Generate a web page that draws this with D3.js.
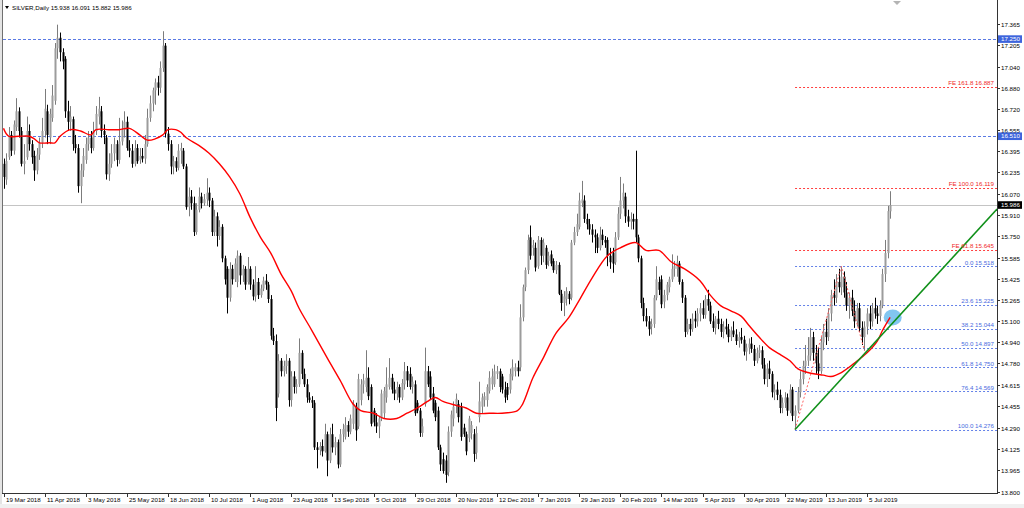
<!DOCTYPE html>
<html><head><meta charset="utf-8">
<script src="https://cdn.jsdelivr.net/npm/d3@7/dist/d3.min.js"></script>
<style>
html,body{margin:0;padding:0;background:#fff;overflow:hidden}
svg{display:block}
text{font-family:"Liberation Sans",Arial,sans-serif;}
</style></head><body>
<svg id="c" width="1024" height="508"></svg>
<script>
// ---------- DATA ----------
const symbolTitle = "SILVER,Daily";
const titleOHLC = [15.938, 16.091, 15.882, 15.986];
const dateLabels = ["19 Mar 2018","11 Apr 2018","3 May 2018","25 May 2018","18 Jun 2018","10 Jul 2018","1 Aug 2018","23 Aug 2018","13 Sep 2018","5 Oct 2018","29 Oct 2018","20 Nov 2018","12 Dec 2018","7 Jan 2019","29 Jan 2019","20 Feb 2019","14 Mar 2019","5 Apr 2019","30 Apr 2019","22 May 2019","13 Jun 2019","5 Jul 2019"];
const barsPerDateLabel = 16;
const yTickLabels = ["17.365","17.205","17.040","16.880","16.720","16.555","16.395","16.235","16.070","15.910","15.750","15.585","15.425","15.265","15.100","14.940","14.780","14.615","14.455","14.290","14.125","13.965","13.800"];

const opens = [
16.30,16.18,16.35,16.52,16.40,16.58,16.70,16.55,16.30,16.35,16.55,16.45,16.36,16.25,16.37,16.46,
16.55,16.70,16.50,16.65,16.78,17.18,17.26,17.15,17.10,16.70,16.62,16.64,16.45,16.42,16.13,16.25,
16.33,16.45,16.50,16.42,16.55,16.66,16.70,16.55,16.50,16.22,16.30,16.38,16.45,16.33,16.47,16.56,
16.62,16.42,16.40,16.30,16.42,16.33,16.36,16.34,16.45,16.65,16.76,16.86,16.92,16.88,17.03,17.20,
16.53,16.45,16.28,16.32,16.27,16.40,16.40,16.28,15.97,16.05,16.00,15.78,15.95,16.05,16.00,16.03,
16.08,16.02,15.78,15.90,15.75,15.82,15.58,15.50,15.28,15.50,15.42,15.40,15.60,15.45,15.50,15.40,
15.50,15.38,15.29,15.40,15.30,15.35,15.41,15.38,15.27,14.99,14.95,14.55,14.80,14.72,14.76,14.80,
14.50,14.68,14.60,14.62,14.86,14.70,14.62,14.52,14.50,14.48,14.14,14.12,14.15,14.11,14.24,14.04,
14.24,14.14,14.18,14.01,14.24,14.22,14.31,14.26,14.32,14.45,14.30,14.50,14.62,14.60,14.67,14.60,
14.42,14.33,14.30,14.36,14.40,14.52,14.60,14.67,14.58,14.55,14.60,14.52,14.62,14.72,14.70,14.60,
14.62,14.48,14.42,14.25,14.47,14.72,14.68,14.55,14.48,14.42,14.14,14.05,14.04,13.95,14.26,14.36,
14.46,14.47,14.45,14.29,14.24,14.21,14.25,14.24,14.10,14.37,14.45,14.50,14.50,14.57,14.62,14.62,
14.70,14.72,14.68,14.58,14.60,14.58,14.68,14.72,14.75,14.75,15.13,15.36,15.49,15.74,15.66,15.66,
15.52,15.72,15.60,15.66,15.56,15.61,15.56,15.49,15.53,15.31,15.24,15.27,15.31,15.28,15.70,15.78,
15.82,16.00,16.02,15.88,15.84,15.80,15.76,15.74,15.66,15.76,15.72,15.72,15.60,15.62,15.55,15.74,
15.92,16.02,16.05,15.90,15.86,15.88,15.88,15.74,15.58,15.24,15.14,15.10,15.06,15.08,15.28,15.40,
15.42,15.25,15.30,15.36,15.42,15.50,15.50,15.54,15.40,15.28,15.02,15.08,15.04,15.12,15.10,15.16,
15.20,15.15,15.27,15.22,15.10,15.05,15.12,15.08,15.02,15.06,15.04,14.98,15.03,15.00,14.95,14.98,
14.96,14.87,14.90,14.93,14.89,14.80,14.86,14.88,14.77,14.66,14.74,14.70,14.56,14.58,14.54,14.44,
14.48,14.52,14.42,14.58,14.38,14.42,14.56,14.66,14.76,14.80,14.84,14.98,14.86,14.78,14.72,14.94,
15.02,14.98,15.16,15.30,15.28,15.40,15.36,15.44,15.32,15.22,15.28,15.18,15.10,15.20,15.05,14.98,
15.06,15.16,15.10,15.20,15.16,15.14,15.22,15.46,15.62,15.938];

const highs = [
16.34,16.38,16.58,16.55,16.63,16.80,16.73,16.58,16.45,16.66,16.60,16.48,16.40,16.42,16.50,16.65,
16.87,16.75,16.72,16.90,17.22,17.36,17.30,17.18,17.12,16.78,16.74,16.66,16.52,16.45,16.30,16.42,
16.50,16.55,16.55,16.62,16.74,16.81,16.74,16.60,16.52,16.38,16.45,16.50,16.48,16.65,16.63,16.70,
16.66,16.48,16.45,16.48,16.45,16.42,16.42,16.52,16.72,16.82,16.88,16.95,16.97,17.08,17.31,17.22,
16.58,16.48,16.36,16.35,16.45,16.46,16.42,16.30,16.12,16.10,16.05,16.00,16.12,16.08,16.07,16.19,
16.12,16.04,15.95,15.93,15.87,15.84,15.60,15.52,15.55,15.53,15.58,15.64,15.62,15.53,15.52,15.59,
15.52,15.42,15.52,15.43,15.38,15.44,15.46,15.40,15.30,15.05,15.00,14.85,14.82,14.80,14.85,14.82,
14.72,14.72,14.66,14.97,14.88,14.74,14.66,14.56,14.53,14.50,14.18,14.18,14.20,14.32,14.26,14.29,
14.32,14.22,14.20,14.28,14.32,14.37,14.34,14.39,14.50,14.48,14.70,14.66,14.70,14.88,14.75,14.62,
14.44,14.40,14.38,14.58,14.60,14.75,14.82,14.70,14.64,14.64,14.62,14.66,14.79,14.76,14.75,14.68,
14.65,14.50,14.44,14.36,14.90,14.76,14.72,14.60,14.50,14.45,14.16,14.10,14.08,14.30,14.42,14.49,
14.55,14.50,14.48,14.32,14.26,14.38,14.34,14.28,14.30,14.64,14.55,14.56,14.62,14.72,14.74,14.77,
14.76,14.74,14.70,14.64,14.63,14.74,14.81,14.78,14.80,15.23,15.38,15.51,15.76,15.83,15.72,15.70,
15.75,15.74,15.73,15.68,15.63,15.64,15.58,15.56,15.55,15.34,15.33,15.36,15.33,15.72,15.82,15.92,
16.08,16.17,16.06,15.92,15.88,15.84,15.80,15.77,15.82,15.80,15.75,15.74,15.66,15.66,15.78,15.97,
16.20,16.15,16.08,15.95,15.93,15.92,16.40,15.76,15.60,15.28,15.20,15.14,15.12,15.30,15.52,15.44,
15.45,15.34,15.40,15.44,15.61,15.56,15.60,15.56,15.42,15.30,15.12,15.12,15.16,15.18,15.20,15.24,
15.26,15.30,15.34,15.25,15.16,15.14,15.18,15.12,15.10,15.12,15.08,15.06,15.10,15.04,15.02,15.05,
14.99,14.93,14.97,14.98,14.92,14.90,14.92,14.91,14.82,14.78,14.80,14.72,14.62,14.64,14.58,14.52,
14.56,14.55,14.62,14.60,14.46,14.60,14.72,14.80,14.92,14.98,15.05,15.02,14.92,14.90,14.98,15.08,
15.12,15.20,15.34,15.42,15.46,15.50,15.518,15.48,15.40,15.32,15.34,15.26,15.24,15.24,15.10,15.10,
15.20,15.22,15.24,15.28,15.22,15.26,15.50,15.72,15.98,16.091];

const lows = [
16.11,16.14,16.33,16.36,16.37,16.55,16.50,16.28,16.22,16.33,16.40,16.30,16.17,16.22,16.33,16.42,
16.50,16.45,16.45,16.62,16.75,17.10,17.08,17.02,16.65,16.55,16.55,16.40,16.38,16.08,16.00,16.20,
16.30,16.40,16.38,16.40,16.52,16.60,16.50,16.45,16.18,16.17,16.27,16.32,16.28,16.30,16.44,16.50,
16.40,16.35,16.27,16.28,16.30,16.30,16.31,16.30,16.43,16.62,16.70,16.75,16.82,16.84,17.00,16.50,
16.40,16.22,16.22,16.24,16.25,16.30,16.26,15.95,15.90,15.95,15.75,15.76,15.93,15.96,15.98,15.98,
15.97,15.75,15.75,15.67,15.72,15.55,15.38,15.16,15.25,15.38,15.40,15.36,15.38,15.40,15.34,15.38,
15.34,15.26,15.25,15.27,15.28,15.33,15.34,15.24,14.96,14.92,14.34,14.52,14.68,14.68,14.70,14.45,
14.45,14.55,14.55,14.60,14.66,14.60,14.48,14.48,14.44,14.12,13.98,14.08,14.07,14.10,13.92,14.02,
14.10,14.08,13.98,13.99,14.18,14.20,14.22,14.24,14.28,14.19,14.28,14.46,14.55,14.56,14.50,14.30,
14.30,14.25,14.21,14.34,14.36,14.48,14.58,14.55,14.50,14.50,14.48,14.50,14.58,14.60,14.58,14.55,
14.38,14.40,14.22,14.22,14.45,14.60,14.50,14.40,14.34,14.12,13.96,13.94,13.87,13.92,14.22,14.30,
14.40,14.33,14.19,14.22,14.08,14.18,14.20,14.03,14.05,14.33,14.40,14.45,14.45,14.55,14.58,14.60,
14.66,14.56,14.55,14.48,14.50,14.55,14.65,14.68,14.68,14.72,15.10,15.33,15.46,15.57,15.60,15.48,
15.50,15.53,15.55,15.50,15.52,15.52,15.47,15.46,15.30,15.18,15.14,15.22,15.23,15.26,15.68,15.75,
15.80,15.97,15.85,15.80,15.76,15.70,15.62,15.62,15.64,15.68,15.66,15.52,15.50,15.47,15.53,15.72,
15.88,15.96,15.85,15.82,15.80,15.80,15.70,15.55,15.20,15.10,15.06,14.99,15.00,15.05,15.26,15.30,
15.20,15.20,15.26,15.32,15.40,15.44,15.44,15.38,15.24,14.98,15.00,14.99,15.02,15.05,15.06,15.10,
15.12,15.12,15.18,15.08,15.02,15.00,15.04,14.98,14.97,15.00,14.94,14.95,14.98,14.92,14.90,14.93,
14.84,14.80,14.85,14.86,14.76,14.78,14.82,14.74,14.62,14.60,14.66,14.52,14.50,14.50,14.40,14.40,
14.44,14.38,14.40,14.34,14.276,14.40,14.52,14.62,14.70,14.76,14.80,14.80,14.70,14.66,14.70,14.88,
14.92,14.95,15.10,15.22,15.24,15.32,15.30,15.28,15.18,15.12,15.14,15.05,15.06,15.02,14.92,14.877,
15.00,15.04,15.06,15.12,15.08,15.10,15.20,15.40,15.58,15.882];

const closes = [
16.20,16.32,16.52,16.40,16.60,16.70,16.55,16.30,16.32,16.55,16.45,16.35,16.25,16.37,16.46,16.55,
16.72,16.52,16.68,16.82,17.18,17.26,17.15,17.08,16.70,16.62,16.66,16.45,16.42,16.13,16.25,16.36,
16.45,16.50,16.42,16.55,16.68,16.72,16.55,16.52,16.22,16.30,16.38,16.45,16.33,16.47,16.56,16.62,
16.42,16.40,16.30,16.42,16.32,16.36,16.34,16.45,16.65,16.76,16.86,16.92,16.88,17.03,17.20,16.53,
16.45,16.28,16.32,16.27,16.40,16.42,16.28,15.97,16.05,16.00,15.78,15.95,16.05,16.00,16.03,16.08,
16.02,15.78,15.90,15.75,15.82,15.58,15.42,15.28,15.50,15.42,15.54,15.60,15.45,15.50,15.38,15.50,
15.38,15.29,15.40,15.30,15.35,15.41,15.38,15.27,14.99,14.95,14.44,14.80,14.72,14.76,14.80,14.50,
14.68,14.60,14.62,14.86,14.70,14.62,14.52,14.50,14.48,14.14,14.12,14.15,14.11,14.24,14.04,14.24,
14.14,14.18,14.01,14.24,14.28,14.31,14.26,14.36,14.47,14.27,14.66,14.62,14.65,14.67,14.53,14.32,
14.33,14.30,14.36,14.55,14.57,14.62,14.67,14.58,14.55,14.60,14.52,14.63,14.72,14.65,14.60,14.64,
14.40,14.42,14.25,14.30,14.72,14.62,14.52,14.42,14.37,14.14,14.01,13.96,13.93,14.26,14.39,14.45,
14.51,14.37,14.22,14.24,14.11,14.36,14.31,14.09,14.25,14.49,14.52,14.53,14.60,14.67,14.68,14.72,
14.72,14.60,14.58,14.52,14.54,14.70,14.75,14.75,14.72,15.13,15.36,15.49,15.72,15.60,15.68,15.51,
15.72,15.60,15.70,15.53,15.60,15.54,15.49,15.53,15.31,15.24,15.29,15.33,15.27,15.70,15.78,15.84,
16.02,16.03,15.88,15.84,15.80,15.76,15.74,15.66,15.76,15.72,15.70,15.60,15.55,15.54,15.74,15.92,
16.02,16.08,15.90,15.86,15.88,15.86,15.74,15.58,15.24,15.14,15.10,15.04,15.08,15.28,15.42,15.34,
15.23,15.30,15.38,15.42,15.50,15.52,15.55,15.40,15.28,15.02,15.08,15.04,15.12,15.10,15.16,15.20,
15.15,15.27,15.22,15.10,15.05,15.12,15.08,15.02,15.06,15.04,14.98,15.03,15.00,14.95,14.98,14.96,
14.87,14.90,14.93,14.89,14.80,14.86,14.88,14.77,14.66,14.74,14.70,14.56,14.58,14.54,14.44,14.48,
14.52,14.42,14.58,14.38,14.42,14.56,14.66,14.76,14.80,14.84,14.98,14.86,14.78,14.72,14.94,15.02,
14.98,15.16,15.30,15.28,15.40,15.36,15.44,15.32,15.22,15.28,15.18,15.10,15.20,15.05,14.98,15.06,
15.16,15.10,15.20,15.16,15.14,15.22,15.46,15.62,15.94,15.986];

// moving average (red line), read at these bar positions
const maBars = [0,2,6,10,12,14,18,20,22,26,30,34,36,41,45,49,53,56,59,62,64,67,69,71,76,80,84,88,92,96,100,104,108,112,115,120,126,131,136,139,144,148,153,157,161,165,168,171,176,180,184,189,194,200,202,206,210,215,220,224,229,235,240,246,250,255,260,265,271,275,279,283,287,290,294,298,302,306,309,313,319,322,326,331,336,340,342,345];
const maValues = [16.57,16.51,16.51,16.51,16.49,16.46,16.46,16.46,16.51,16.56,16.55,16.52,16.56,16.56,16.56,16.57,16.52,16.48,16.49,16.52,16.56,16.56,16.54,16.50,16.44,16.38,16.30,16.20,16.07,15.89,15.74,15.62,15.46,15.33,15.20,15.03,14.82,14.65,14.47,14.42,14.40,14.36,14.36,14.40,14.44,14.49,14.52,14.49,14.46,14.44,14.40,14.40,14.40,14.42,14.47,14.67,14.82,15.01,15.13,15.26,15.43,15.60,15.66,15.70,15.64,15.64,15.55,15.50,15.41,15.30,15.22,15.18,15.14,15.07,14.98,14.90,14.85,14.80,14.74,14.71,14.69,14.68,14.71,14.78,14.86,14.95,15.03,15.13];

const levelLines = [17.250, 16.510];
const lastPrice = 15.986;
const fibRatios = [0.0, 23.6, 38.2, 50.0, 61.8, 76.4, 100.0];
const fibPrices = [15.518, 15.225, 15.044, 14.897, 14.750, 14.569, 14.276];
const feRatios = [61.8, 100.0, 161.8];
const fePrices = [15.645, 16.119, 16.887];
const fibAnchorBar = 308;
const zigzagBars = [308, 326, 335];
const zigzagPrices = [14.276, 15.518, 14.877];
const trendBars = [308, 386.6];
const trendPrices = [14.276, 15.955];
const markerBar = 346, markerPrice = 15.13;

// ---------- LAYOUT ----------
const W = 1024, H = 508;
const plotL = 3, plotR = 997, plotT = 0, plotB = 493;
const svg = d3.select("#c");
const x = d3.scaleLinear().domain([0, 345]).range([3.5, 890.15]);
const y = d3.scaleLinear().domain([13.8, 17.365]).range([492, 24]);
const FS = 6.2;
const TXT = "#000";

svg.append("rect").attr("width", W).attr("height", H).attr("fill", "#fff");
svg.append("defs").append("clipPath").attr("id", "clip")
  .append("rect").attr("x", plotL).attr("y", plotT).attr("width", plotR - plotL).attr("height", plotB - plotT);

const plot = svg.append("g").attr("clip-path", "url(#clip)");

// last price line
plot.append("line").attr("x1", plotL).attr("x2", plotR)
  .attr("y1", Math.round(y(lastPrice)) + 0.5).attr("y2", Math.round(y(lastPrice)) + 0.5)
  .attr("stroke", "#c4c4c4").attr("stroke-width", 1);

// full-width horizontal levels
plot.selectAll("line.lvl").data(levelLines).join("line")
  .attr("x1", plotL).attr("x2", plotR)
  .attr("y1", d => Math.round(y(d)) + 0.5).attr("y2", d => Math.round(y(d)) + 0.5)
  .attr("stroke", "#5a7ae4").attr("stroke-width", 1).attr("stroke-dasharray", "3,2");

// fib retracement levels
const fibData = fibRatios.map((r, k) => ({r, p: fibPrices[k]}));
plot.selectAll("line.fib").data(fibData).join("line")
  .attr("x1", x(fibAnchorBar)).attr("x2", plotR)
  .attr("y1", d => Math.round(y(d.p)) + 0.5).attr("y2", d => Math.round(y(d.p)) + 0.5)
  .attr("stroke", "#6482e8").attr("stroke-width", 1).attr("stroke-dasharray", "2,2");
const feData = feRatios.map((r, k) => ({r, p: fePrices[k]}));
plot.selectAll("line.fe").data(feData).join("line")
  .attr("x1", x(fibAnchorBar)).attr("x2", plotR)
  .attr("y1", d => Math.round(y(d.p)) + 0.5).attr("y2", d => Math.round(y(d.p)) + 0.5)
  .attr("stroke", "#ff4040").attr("stroke-width", 1).attr("stroke-dasharray", "2,2");

// candles
const bars = closes.map((c, i) => ({i, o: opens[i], h: highs[i], l: lows[i], c}));
const up = d => d.c >= d.o;
plot.selectAll("line.wick").data(bars).join("line")
  .attr("x1", d => Math.round(x(d.i)) + 0.5).attr("x2", d => Math.round(x(d.i)) + 0.5)
  .attr("y1", d => y(d.h)).attr("y2", d => y(d.l))
  .attr("stroke", d => up(d) ? "#7c7c7c" : "#000").attr("stroke-width", 1);
plot.selectAll("rect.body").data(bars).join("rect")
  .attr("x", d => Math.round(x(d.i)) + 0.5 - 1).attr("width", 2)
  .attr("y", d => Math.min(y(d.o), y(d.c)))
  .attr("height", d => Math.max(1, Math.abs(y(d.o) - y(d.c))))
  .attr("fill", d => up(d) ? "#9c9c9c" : "#000");

// zigzag (fibo expansion anchors)
const zz = zigzagBars.map((b, k) => [x(b), y(zigzagPrices[k])]);
plot.append("path").attr("d", d3.line()(zz)).attr("fill", "none")
  .attr("stroke", "#ff6060").attr("stroke-width", 1).attr("stroke-dasharray", "2,2");

// highlight marker
plot.append("ellipse").attr("cx", x(markerBar)).attr("cy", y(markerPrice))
  .attr("rx", 9).attr("ry", 8).attr("fill", "#74c0f0").attr("opacity", 0.9);

// moving average
const maPts = maBars.map((b, k) => [x(b), y(maValues[k])]);
plot.append("path").attr("d", d3.line().curve(d3.curveCatmullRom)(maPts))
  .attr("fill", "none").attr("stroke", "#ff0000").attr("stroke-width", 1.4);

// trend line
const tl = trendBars.map((b, k) => [x(b), y(trendPrices[k])]);
plot.append("path").attr("d", d3.line()(tl)).attr("fill", "none")
  .attr("stroke", "#10901a").attr("stroke-width", 1.6);

// fib labels
const labelX = 994;
plot.selectAll("text.fibl").data(fibData).join("text")
  .attr("x", labelX).attr("y", d => y(d.p) - 1.5).attr("text-anchor", "end")
  .attr("font-size", FS).attr("fill", "#4a6ce0")
  .text(d => d.r.toFixed(1) + " " + d.p.toFixed(3));
plot.selectAll("text.fel").data(feData).join("text")
  .attr("x", labelX).attr("y", d => y(d.p) - 1.5).attr("text-anchor", "end")
  .attr("font-size", FS).attr("fill", "#f02828")
  .text(d => "FE " + d.r.toFixed(1) + " " + d.p.toFixed(3));

// frame
svg.append("rect").attr("x", 0).attr("y", 0).attr("width", 2).attr("height", H).attr("fill", "#e4e4e4");
svg.append("line").attr("x1", 2.5).attr("x2", 2.5).attr("y1", 0).attr("y2", plotB).attr("stroke", "#707070");
svg.append("line").attr("x1", plotR + 0.5).attr("x2", plotR + 0.5).attr("y1", 0).attr("y2", plotB + 1).attr("stroke", "#333");
svg.append("line").attr("x1", 2).attr("x2", plotR + 1).attr("y1", plotB + 0.5).attr("y2", plotB + 0.5).attr("stroke", "#333");
svg.append("rect").attr("x", 0).attr("y", 504).attr("width", W).attr("height", 4).attr("fill", "#f0f0f0");

// right axis
const yAx = svg.append("g");
yTickLabels.forEach(t => {
  const v = +t, py = Math.round(y(v)) + 0.5;
  yAx.append("line").attr("x1", plotR + 1).attr("x2", plotR + 3).attr("y1", py).attr("y2", py).attr("stroke", "#333");
  yAx.append("text").attr("x", 1001).attr("y", py + 2.2).attr("font-size", FS).attr("fill", TXT).text(t);
});
function tag(v, bg) {
  const py = y(v);
  yAx.append("rect").attr("x", plotR + 1).attr("y", py - 3.8).attr("width", 24).attr("height", 7.6).attr("fill", bg);
  yAx.append("text").attr("x", 1001).attr("y", py + 2.2).attr("font-size", FS).attr("fill", "#fff").text(v.toFixed(3));
}
levelLines.forEach(v => tag(v, "#3d64dc"));
tag(lastPrice, "#000");

// bottom axis
const xAx = svg.append("g");
dateLabels.forEach((t, k) => {
  const px = Math.round(x(k * barsPerDateLabel)) + 0.5;
  xAx.append("line").attr("x1", px).attr("x2", px).attr("y1", plotB).attr("y2", plotB + 4).attr("stroke", "#333");
  xAx.append("text").attr("x", px + 1.5).attr("y", 501.5).attr("font-size", FS).attr("fill", TXT).text(t);
});

// title
svg.append("path").attr("d", d3.line()([[5, 6], [9, 6], [7, 9]]) + "Z").attr("fill", "#000");
svg.append("text").attr("x", 12).attr("y", 9.5).attr("font-size", FS).attr("fill", TXT)
  .text(symbolTitle + "  " + titleOHLC.map(v => v.toFixed(3)).join(" "));
// chart shift marker
svg.append("path").attr("d", d3.line()([[893, 1], [901, 1], [897, 5]]) + "Z").attr("fill", "#b4b4b4");
</script>
</body></html>
